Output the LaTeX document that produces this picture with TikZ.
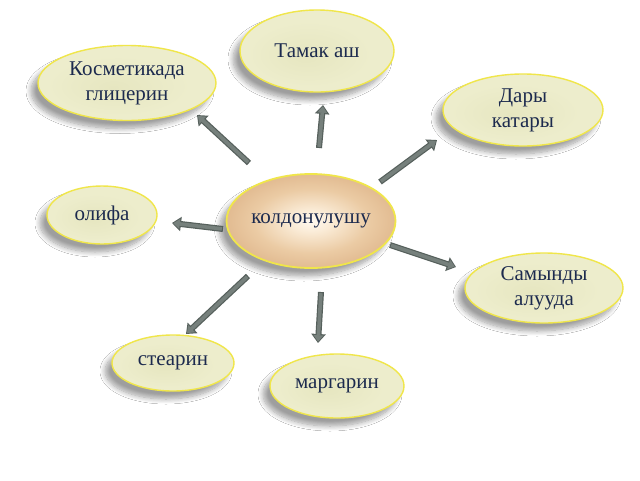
\documentclass[tikz,border=0pt]{standalone}
\usepackage{fontspec}
\setmainfont{Liberation Serif}
\usetikzlibrary{shapes.geometric,shadows.blur,arrows.meta}
\definecolor{txt}{HTML}{1C2A4E}
\definecolor{rim}{HTML}{F0E64A}
\definecolor{bubin}{HTML}{E6E6C0}
\definecolor{bubmid}{HTML}{EDEDCC}
\definecolor{bubout}{HTML}{F9F9EA}
\definecolor{hubin}{HTML}{FFF9F0}
\definecolor{hubin2}{HTML}{FAEBD6}
\definecolor{hubmid}{HTML}{EBCBA4}
\definecolor{hubout}{HTML}{DDB388}
\definecolor{hubrim}{HTML}{EED2AE}
\definecolor{arrdark}{HTML}{56605C}
\definecolor{arrfill}{HTML}{76807C}
\pgfdeclareradialshading{bubshade}{\pgfpoint{-4bp}{-3bp}}{color(0bp)=(bubin); color(20bp)=(bubmid); color(32bp)=(bubmid); color(36bp)=(bubout); color(50bp)=(bubout)}
\pgfdeclareradialshading{hubshade}{\pgfpoint{0bp}{0bp}}{color(0bp)=(hubin); color(6bp)=(hubin2); color(17bp)=(hubmid); color(29bp)=(hubout); color(34bp)=(hubout); color(37bp)=(hubrim); color(50bp)=(hubrim)}
\tikzset{
  bubble/.style={ellipse, draw=rim, line width=1.4pt, inner sep=0pt,
    shading=bubshade, text=txt, align=center,
    font=\fontsize{21}{25}\selectfont,
    blur shadow={shadow xshift=-7pt, shadow yshift=-8pt, shadow blur radius=5pt, shadow blur steps=10, shadow opacity=38}},
  hub/.style={bubble, line width=1.8pt, shading=hubshade},
  barrowout/.style={line width=6pt, draw=arrdark, -{Triangle[length=9pt,width=14pt]}},
  barrowin/.style={line width=3.6pt, draw=arrfill, shorten <=1.2pt, shorten >=1.3pt, -{Triangle[length=6.5pt,width=9.5pt]}}
}
\begin{document}
\begin{tikzpicture}[x=1pt,y=-1pt]
\useasboundingbox (0,0) rectangle (640,480);
\fill[white] (0,0) rectangle (640,480);
% nodes
\node[bubble, minimum width=154pt, minimum height=82pt] (tamak) at (317,51) {Тамак аш};
\node[bubble, minimum width=178pt, minimum height=75pt] (kosm) at (127,83) {Косметикада\\глицерин};
\node[bubble, minimum width=160pt, minimum height=72pt] (dary) at (523,110) {Дары\\катары};
\node[bubble, minimum width=110pt, minimum height=58pt] (olifa) at (102,215) {олифа};
\node[hub, minimum width=146pt, minimum height=94pt] (hub) at (311,221) {колдонулушу};
\node[bubble, minimum width=158pt, minimum height=70pt] (samyn) at (544,288) {Самынды\\алууда};
\node[bubble, minimum width=122pt, minimum height=56pt] (stearin) at (173,363) {стеарин};
\node[bubble, minimum width=134pt, minimum height=64pt] (marg) at (337,386) {маргарин};
% arrow end points
\coordinate (t1) at (319,148); \coordinate (h1) at (323,105);
\coordinate (t2) at (380,182); \coordinate (h2) at (437,140);
\coordinate (t3) at (249,163); \coordinate (h3) at (197,115);
\coordinate (t4) at (223,229); \coordinate (h4) at (172,223);
\coordinate (t5) at (248,276); \coordinate (h5) at (186,334);
\coordinate (t6) at (321,292); \coordinate (h6) at (318,343);
\coordinate (t7) at (390,245); \coordinate (h7) at (456,267);
\foreach \i in {1,...,7}{
  \draw[barrowout] (t\i) -- (h\i);
  \draw[barrowin] (t\i) -- (h\i);
}
\end{tikzpicture}
\end{document}
